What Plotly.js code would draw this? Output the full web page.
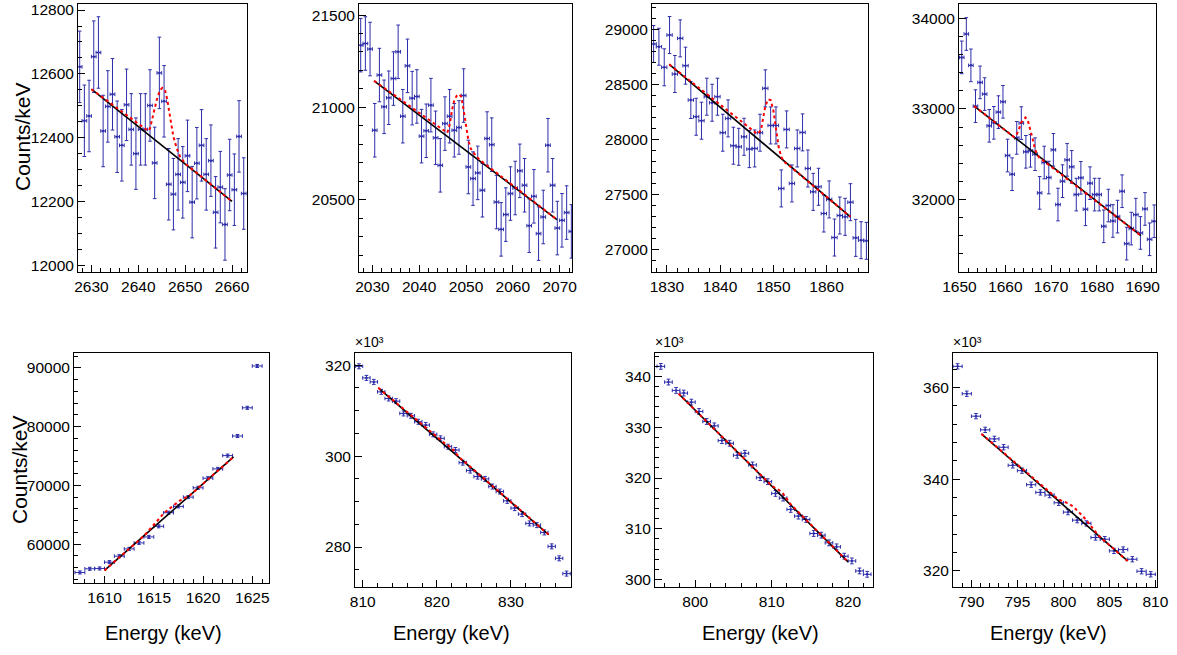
<!DOCTYPE html>
<html>
<head>
<meta charset="utf-8">
<script src="https://cdn.plot.ly/plotly-3.0.1.min.js"></script>
<style>html,body{margin:0;padding:0;background:#fff;}#chart{width:1177px;height:655px;}</style>
</head>
<body>
<div id="chart"></div>
<script>
// ---------- Panel 1 ----------
const p1_energy = [2627.5,2628.5,2629.5,2630.5,2631.5,2632.5,2633.5,2634.5,2635.5,2636.5,2637.5,2638.5,2639.5,2640.5,2641.5,2642.5,2643.5,2644.5,2645.5,2646.5,2647.5,2648.5,2649.5,2650.5,2651.5,2652.5,2653.5,2654.5,2655.5,2656.5,2657.5,2658.5,2659.5,2660.5,2661.5,2662.5];
const p1_counts = [12622,12453,12468,12654,12667,12421,12498,12536,12403,12376,12503,12426,12350,12426,12426,12501,12321,12603,12514,12254,12223,12285,12260,12343,12198,12320,12376,12285,12328,12166,12245,12128,12283,12237,12404,12225];
const p1_err = 112;
const p1_bgE = [2630, 2660];
const p1_bg = [12552, 12200];
const p1_fitE = [2630, 2642.14, 2642.5, 2643.21, 2643.93, 2644.64, 2645.14, 2645.71, 2646.21, 2646.79, 2647.5, 2648.21, 2648.93, 2650, 2660];
const p1_fit = [12552, 12421, 12429, 12471, 12518, 12549, 12556, 12549, 12518, 12465, 12403, 12366, 12340, 12319, 12200];

// ---------- Panel 2 ----------
const p2_energy = [2027.5,2028.5,2029.5,2030.5,2031.5,2032.5,2033.5,2034.5,2035.5,2036.5,2037.5,2038.5,2039.5,2040.5,2041.5,2042.5,2043.5,2044.5,2045.5,2046.5,2047.5,2048.5,2049.5,2050.5,2051.5,2052.5,2053.5,2054.5,2055.5,2056.5,2057.5,2058.5,2059.5,2060.5,2061.5,2062.5,2063.5,2064.5,2065.5,2066.5,2067.5,2068.5,2069.5,2070.5,2071.5,2072.5];
const p2_counts = [21337,21346,21316,20876,21175,21003,21052,21156,21301,20952,21225,21050,21059,20844,20873,21012,20835,20686,20912,20952,20876,20891,21064,20677,20614,20645,20551,20831,20798,20487,20339,20419,20533,20563,20656,20578,20359,20518,20316,20406,20795,20578,20346,20388,20430,20328];
const p2_err = 145;
const p2_bgE = [2030.36, 2069.43];
const p2_bg = [21144, 20392];
const p2_fitE = [2030.36, 2046, 2046.57, 2047, 2047.5, 2048, 2048.57, 2049, 2049.5, 2050, 2050.5, 2051, 2052, 2053, 2069.43];
const p2_fit = [21144, 20862, 20912, 20985, 21039, 21062, 21071, 21057, 20985, 20894, 20822, 20777, 20741, 20714, 20392];

// ---------- Panel 3 ----------
const p3_energy = [1827.5,1828.5,1829.5,1830.5,1831.5,1832.5,1833.5,1834.5,1835.5,1836.5,1837.5,1838.5,1839.5,1840.5,1841.5,1842.5,1843.5,1844.5,1845.5,1846.5,1847.5,1848.5,1849.5,1850.5,1851.5,1852.5,1853.5,1854.5,1855.5,1856.5,1857.5,1858.5,1859.5,1860.5,1861.5,1862.5,1863.5,1864.5,1865.5,1866.5,1867.5];
const p3_counts = [28867,28842,28655,28948,28594,28918,28670,28358,28206,28170,28388,28333,28388,28061,28191,27943,27933,28024,27912,27918,28061,28464,28127,28127,27555,28091,27600,27918,28064,27736,27524,27570,27327,27455,27109,27309,27297,27430,27106,27085,27079];
const p3_err = 168;
const p3_bgE = [1830.44, 1864.5];
const p3_bg = [28682, 27297];
const p3_fitE = [1830.44, 1847, 1847.69, 1848, 1848.5, 1849, 1849.5, 1850, 1850.5, 1851, 1851.5, 1852, 1853, 1864.5];
const p3_fit = [28682, 28049, 28085, 28176, 28303, 28364, 28358, 28267, 28100, 27933, 27842, 27797, 27761, 27297];

// ---------- Panel 4 ----------
const p4_energy = [1650.5,1651.5,1652.5,1653.5,1654.5,1655.5,1656.5,1657.5,1658.5,1659.5,1660.5,1661.5,1662.5,1663.5,1664.5,1665.5,1666.5,1667.5,1668.5,1669.5,1670.5,1671.5,1672.5,1673.5,1674.5,1675.5,1676.5,1677.5,1678.5,1679.5,1680.5,1681.5,1682.5,1683.5,1684.5,1685.5,1686.5,1687.5,1688.5,1689.5,1690.5,1691.5,1692.5];
const p4_counts = [33569,33827,33481,33031,33293,33164,32814,32847,32965,33079,32486,32280,32681,32844,32527,32538,32501,32074,32409,32243,32549,31945,32203,32438,32361,32055,32240,31893,32181,32055,32055,31705,31934,31764,31812,32092,31514,31680,31834,31632,31897,31562,31761];
const p4_err = 180;
const p4_bgE = [1653.22, 1689.62];
const p4_bg = [33031, 31602];
const p4_fitE = [1653.22, 1661.9, 1662.41, 1662.93, 1663.44, 1663.96, 1664.4, 1664.91, 1665.43, 1665.94, 1666.46, 1666.9, 1667.41, 1689.62];
const p4_fit = [33031, 32690, 32711, 32766, 32847, 32884, 32906, 32877, 32785, 32674, 32564, 32501, 32464, 31602];

// ---------- Panel 5 ----------
const p5_energy = [1607.5,1608.5,1609.5,1610.5,1611.5,1612.5,1613.5,1614.5,1615.5,1616.5,1617.5,1618.5,1619.5,1620.5,1621.5,1622.5,1623.5,1624.5,1625.5];
const p5_counts = [55196,55818,55874,56948,57966,59208,60226,61243,63050,65366,66441,68021,69604,71242,72824,75084,78418,83220,90339];
const p5_err = 260;
const p5_bgE = [1610, 1623.1];
const p5_bg = [55535, 74857];
const p5_fitE = [1610, 1614, 1614.5, 1615, 1615.5, 1616, 1616.5, 1617, 1617.5, 1618, 1618.5, 1623.1];
const p5_fit = [55535, 61411, 62350, 63389, 64250, 65253, 65950, 66666, 67250, 67796, 68078, 74857];

// ---------- Panel 6 (x10^3) ----------
const p6_energy = [809.5,810.5,811.5,812.5,813.5,814.5,815.5,816.5,817.5,818.5,819.5,820.5,821.5,822.5,823.5,824.5,825.5,826.5,827.5,828.5,829.5,830.5,831.5,832.5,833.5,834.5,835.5,836.5,837.5];
const p6_counts = [319.78,317.22,316.34,314.15,312.69,312.10,309.40,308.88,307.57,306.84,304.79,303.91,302.08,301.35,298.57,296.82,295.50,294.99,293.31,292.21,290.16,288.56,287.24,285.19,284.82,283.21,280.14,277.51,274.15];
const p6_err = 0.55;
const p6_bgE = [812.1, 835.1];
const p6_bg = [315.03, 282.70];
const p6_fitE = [812.1, 820.5, 821, 821.5, 822, 822.5, 823, 835.1];
const p6_fit = [315.03, 303.42, 302.9, 302.4, 301.8, 300.8, 299.8, 282.70];

// ---------- Panel 7 (x10^3) ----------
const p7_energy = [795.5,796.5,797.5,798.5,799.5,800.5,801.5,802.5,803.5,804.5,805.5,806.5,807.5,808.5,809.5,810.5,811.5,812.5,813.5,814.5,815.5,816.5,817.5,818.5,819.5,820.5,821.5,822.5];
const p7_counts = [341.97,338.88,337.24,336.71,334.93,333.09,331.12,330.26,327.37,326.84,324.47,324.87,322.57,320.07,319.28,316.97,316.05,313.82,312.50,311.84,309.08,308.75,307.24,306.45,304.61,303.68,301.71,301.05];
const p7_err = 0.57;
const p7_bgE = [797.83, 820];
const p7_bg = [336.58, 303.49];
const p7_fitE = [797.83, 809.5, 810, 810.5, 811, 811.5, 812, 812.5, 820];
const p7_fit = [336.58, 319.16, 318.49, 318.0, 317.6, 316.9, 315.9, 314.8, 303.49];

// ---------- Panel 8 (x10^3) ----------
const p8_energy = [788.5,789.5,790.5,791.5,792.5,793.5,794.5,795.5,796.5,797.5,798.5,799.5,800.5,801.5,802.5,803.5,804.5,805.5,806.5,807.5,808.5,809.5];
const p8_counts = [364.59,358.62,353.73,350.75,348.78,346.96,343.02,341.86,338.80,337.12,336.54,334.86,332.82,331.07,330.35,327.29,326.92,324.37,324.66,322.55,319.93,319.27];
const p8_err = 0.58;
const p8_bgE = [791.09, 806.98];
const p8_bg = [349.87, 322.18];
const p8_fitE = [791.09, 798.91, 799.45, 800, 800.55, 801.09, 801.64, 802.18, 802.73, 803.27, 803.82, 806.98];
const p8_fit = [349.87, 336.32, 335.59, 335.15, 334.72, 333.99, 332.90, 331.80, 330.49, 329.2, 327.7, 322.18];

// ---------- Text ----------
const yTitle = 'Counts/keV';
const xTitle = 'Energy (keV)';
const expLabel = '\u00d710\u00b3';

// ---------- Layout helpers ----------
const W = 1177, H = 655;
const fx = px => px / W;
const fy = py => 1 - py / H;
const FONT = '"Liberation Sans", Arial, Helvetica, sans-serif';
const dataColor = 'rgb(45,45,170)';

const panels = [
  {E:p1_energy, C:p1_counts, err:p1_err, bgE:p1_bgE, bg:p1_bg, fE:p1_fitE, f:p1_fit, box:[78,247,4,272], xr:[2627.14,2663.2], yr:[11979,12819], xd:10, xm:2, yd:200, ym:50},
  {E:p2_energy, C:p2_counts, err:p2_err, bgE:p2_bgE, bg:p2_bg, fE:p2_fitE, f:p2_fit, box:[359,572,4,272], xr:[2027.14,2072.64], yr:[20108,21560], xd:10, xm:2, yd:500, ym:100},
  {E:p3_energy, C:p3_counts, err:p3_err, bgE:p3_bgE, bg:p3_bg, fE:p3_fitE, f:p3_fit, box:[652,868,4,272], xr:[1827.2,1867.8], yr:[26796,29230], xd:10, xm:2, yd:500, ym:100},
  {E:p4_energy, C:p4_counts, err:p4_err, bgE:p4_bgE, bg:p4_bg, fE:p4_fitE, f:p4_fit, box:[959,1156,4,272], xr:[1649.9,1692.9], yr:[31201,34158], xd:10, xm:2, yd:1000, ym:200},
  {E:p5_energy, C:p5_counts, err:p5_err, bgE:p5_bgE, bg:p5_bg, fE:p5_fitE, f:p5_fit, box:[74,269,353,583], xr:[1606.9,1626.7], yr:[53400,92547], xd:5, xm:1, yd:10000, ym:2000},
  {E:p6_energy, C:p6_counts, err:p6_err, bgE:p6_bgE, bg:p6_bg, fE:p6_fitE, f:p6_fit, box:[355,571,353,587], xr:[808.96,838.1], yr:[271.2,322.7], xd:10, xm:2, yd:20, ym:5, exp:true},
  {E:p7_energy, C:p7_counts, err:p7_err, bgE:p7_bgE, bg:p7_bg, fE:p7_fitE, f:p7_fit, box:[655,873,353,587], xr:[794.74,823.26], yr:[298.55,344.6], xd:10, xm:2, yd:10, ym:2, exp:true},
  {E:p8_energy, C:p8_counts, err:p8_err, bgE:p8_bgE, bg:p8_bg, fE:p8_fitE, f:p8_fit, box:[953,1157,353,587], xr:[788.0,810.18], yr:[316.5,367.5], xd:5, xm:1, yd:20, ym:4, exp:true}
];

const traces = [];
const layout = {
  width: W, height: H,
  margin: {l:0, r:0, t:0, b:0},
  paper_bgcolor: 'white', plot_bgcolor: 'white',
  showlegend: false,
  font: {family: FONT, color: 'black', size: 15.5},
  annotations: []
};

panels.forEach((p, i) => {
  const n = i + 1;
  const xa = 'x' + (n === 1 ? '' : n);
  const ya = 'y' + (n === 1 ? '' : n);
  traces.push({
    type: 'scatter', mode: 'markers', x: p.E, y: p.C, xaxis: xa, yaxis: ya,
    marker: {color: dataColor, size: 2.5},
    error_y: {type: 'constant', value: p.err, color: dataColor, thickness: 1, width: 1.8},
    error_x: {type: 'constant', value: 0.5, color: dataColor, thickness: 1, width: 1.8},
    hoverinfo: 'x+y'
  });
  traces.push({
    type: 'scatter', mode: 'lines', x: p.bgE, y: p.bg, xaxis: xa, yaxis: ya,
    line: {color: 'black', width: 1.6}, hoverinfo: 'skip'
  });
  traces.push({
    type: 'scatter', mode: 'lines', x: p.fE, y: p.f, xaxis: xa, yaxis: ya,
    line: {color: 'red', width: 2, dash: 'dot', shape: 'linear'}, hoverinfo: 'skip'
  });
  const [l, r, t, b] = p.box;
  const common = {
    showline: true, mirror: true, linecolor: 'black', linewidth: 1,
    ticks: 'inside', ticklen: 7, tickcolor: 'black', tickwidth: 1,
    showgrid: false, zeroline: false, tick0: 0,
    tickformat: 'd', exponentformat: 'none', separatethousands: false,
    tickfont: {family: FONT, size: 15.5, color: 'black'}
  };
  layout['xaxis' + (n === 1 ? '' : n)] = Object.assign({}, common, {
    domain: [fx(l), fx(r)], range: p.xr, anchor: ya, dtick: p.xd,
    minor: {dtick: p.xm, tick0: 0, ticks: 'inside', ticklen: 4, tickcolor: 'black', showgrid: false}
  });
  layout['yaxis' + (n === 1 ? '' : n)] = Object.assign({}, common, {
    domain: [fy(b), fy(t)], range: p.yr, anchor: xa, dtick: p.yd,
    minor: {dtick: p.ym, tick0: 0, ticks: 'inside', ticklen: 4, tickcolor: 'black', showgrid: false}
  });
  if (p.exp) {
    layout.annotations.push({
      xref: 'paper', yref: 'paper', x: fx(l - 2), y: fy(t - 1),
      xanchor: 'left', yanchor: 'bottom', showarrow: false,
      text: expLabel, font: {family: FONT, size: 14, color: 'black'}
    });
  }
});

// axis titles
[[22, 137], [19, 470]].forEach(([x, y]) => {
  layout.annotations.push({
    xref: 'paper', yref: 'paper', x: fx(x), y: fy(y), xanchor: 'center', yanchor: 'middle',
    showarrow: false, textangle: -90, text: yTitle, font: {family: FONT, size: 21, color: 'black'}
  });
});
[163, 451, 760, 1048].forEach(x => {
  layout.annotations.push({
    xref: 'paper', yref: 'paper', x: fx(x), y: fy(633), xanchor: 'center', yanchor: 'middle',
    showarrow: false, text: xTitle, font: {family: FONT, size: 20, color: 'black'}
  });
});

Plotly.newPlot('chart', traces, layout, {displayModeBar: false, staticPlot: true});
</script>
</body>
</html>
